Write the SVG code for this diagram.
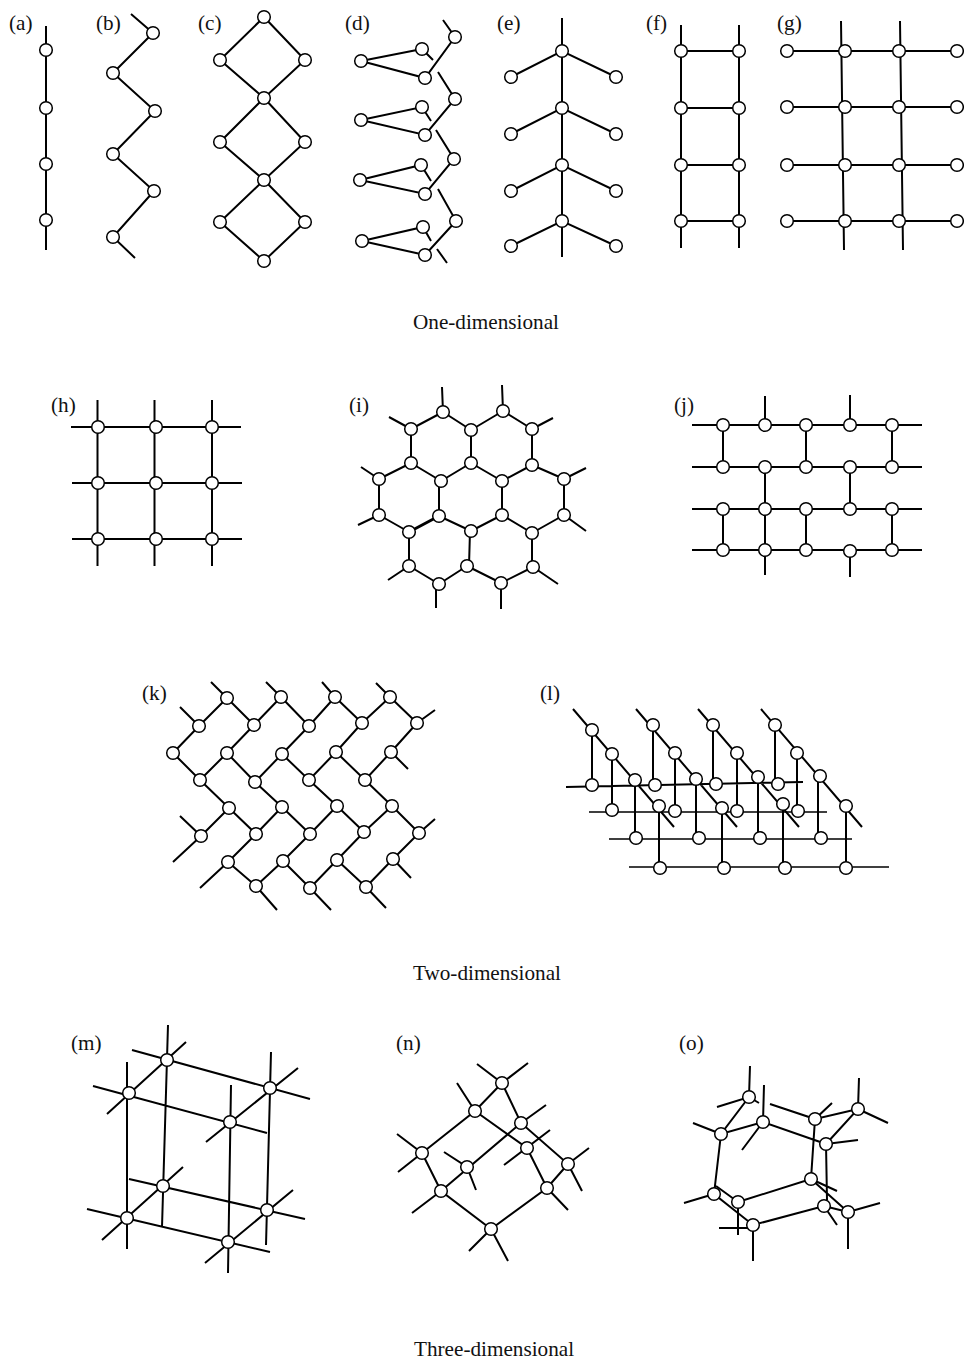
<svg xmlns="http://www.w3.org/2000/svg" width="964" height="1359" viewBox="0 0 964 1359">
<style>
text{font-family:"Liberation Serif","Times New Roman",serif;font-size:21.2px;fill:#111}
.e{stroke:#000;stroke-width:2;fill:none;stroke-linecap:butt}
.t{stroke-width:1.5}
.n circle{fill:#fff;stroke:#000;stroke-width:1.5;r:6.3px}
</style>
<rect width="964" height="1359" fill="#fff"/>
<g id="connectors" class="e">
<path id="c-a" d="M46 26V250"/>
<path id="c-b" d="M131 14L153 33L113 73L155 111L113 154L154 191L113 237L135 258"/>
<path id="c-c" d="M264 17L220 60L264 98L220 142L264 180L220 222L264 261L305 222L264 180L305 142L264 98L305 60Z"/>
<path id="c-d" d="M422 49L361 61L425 78L455 37L443 20M422 49L433 60M438 72L455 99L425 135L361 120L422 107L431 121M436 130L454 159L425 194L360 180L421 165L431 181M438 189L456 221L425 255L362 241L423 227L431 241M437 249L447 263"/>
<path id="c-e" d="M562 18V257M511 77L562 51L616 77M511 134L562 108L616 134M511 191L562 165L616 191M511 246L562 221L616 246"/>
<path id="c-f" d="M681 25V248M739 25V248M681 51H739M681 108H739M681 165H739M681 221H739"/>
<path id="c-g" d="M841 21L844 250M900 21L903 250M787 51H957M787 107H957M787 165H957M787 221H957"/>
<path id="c-h" d="M71 427H241M72 483H242M72 539H242M97.5 400V566M154.5 400V566M212 400V566"/>
<path id="c-i" d="M443 412L411 429M443 412L471 430M503 411L471 430M503 411L532 429M411 429V463M471 430V463M532 429V465M411 463L379 479M411 463L441 481M471 463L441 481M471 463L502 481M532 465L502 481M532 465L564 479M379 479V515M439 481V516M502 481V515M564 479V515M379 515L409 532M439 516L471 531M502 515L471 531M502 515L532 533M564 515L532 533M409 532V566M470 531L469 566M532 533V567M409 566L439 584M467 566L439 584M467 566L501 583M533 567L501 583M442 387L443 412M502 385L503 411M389 417L411 429M553 418L532 429M361 467L379 479M586 468L564 479M358 525L379 515M586 531L564 515M388 580L409 566M558 584L533 567M436 608V584M501 609V583"/>
<path d="M439 516L409 532" stroke-width="3"/>
<path id="c-j" d="M692 425H922M692 467H922M692 509H922M692 550H922M723 425V467M806 425V467M892 425V467M765 467V550M850 467V509M723 509V550M806 509V550M892 509V550M765 396V425M850 395V425M765 550V575M850 550V577"/>
<path id="c-k" d="M227 698L199 726M227 698L254 725M281 697L254 725M281 697L309 726M335 697L309 726M335 697L362 723M390 697L362 723M390 697L417 723M199 726L173 753M254 725L227 753M309 726L282 754M362 723L336 752M417 723L391 752M173 753L200 780M227 753L200 780M227 753L255 782M282 754L255 782M282 754L309 780M336 752L309 780M336 752L365 780M391 752L365 780M200 780L229 808M255 782L282 807M309 780L337 806M365 780L392 806M229 808L201 836M229 808L256 834M282 807L256 834M282 807L310 834M337 806L310 834M337 806L364 832M392 806L364 832M392 806L419 833M256 834L228 862M310 834L283 861M364 832L337 860M419 833L393 859M228 862L256 886M283 861L256 886M283 861L310 888M337 860L310 888M337 860L366 887M393 859L366 887M211 682L227 698M266 682L281 697M322 682L335 697M376 683L390 697M180 707L199 726M435 710L417 723M408 769L391 752M180 816L201 836M173 862L201 836M435 819L419 833M200 888L228 862M411 878L393 859M277 910L256 886M331 910L310 888M386 908L366 887"/>
<path id="c-l" d="M573 709L674 827M636 709L737 827M698 709L799 827M761 709L862 827M566 787L803 782M592 730V785M612 754V810M635 780V838M659 806V868M653 725V785M675 753V811M696 779V838M722 808V868M713 725V784M737 753V811M758 777V838M783 804V868M775 725V784M797 753V811M818 776V838M846 806V868"/>
<path class="t" d="M589 812H827M609 839H852M629 867H889"/>
<path id="c-m" d="M168 1025L162 1227M127 1062V1249M271 1052L266 1245M231 1085L228 1273M186 1042L107 1114M298 1068L206 1142M183 1167L102 1240M293 1190L205 1263M132 1050L310 1099M93 1086L267 1133M129 1179L305 1219M87 1209L270 1252"/>
<path id="c-n" d="M477 1064L502 1083L528 1063M502 1083L475 1111L422 1153L441 1191L491 1229L547 1188L568 1164L521 1123L502 1083M475 1111L527 1148L547 1188M521 1123L441 1191M457 1083L475 1111M546 1105L521 1123M550 1130L504 1165M589 1148L568 1164L582 1191M397 1134L422 1153L398 1172M444 1152L467 1167L476 1190M412 1213L441 1191M568 1210L547 1188M469 1251L491 1229L508 1261"/>
<path id="c-o" d="M750 1066L749 1097L721 1134L763 1122L826 1144L858 1109L815 1119L811 1179L738 1202M717 1107L749 1097L759 1103M764 1085L763 1122L742 1150M693 1123L721 1134L714 1194L753 1225L824 1206L848 1212L811 1179M716 1186L738 1202M770 1104L815 1119L832 1103M859 1078L858 1109L888 1123M826 1144L858 1140M826 1144L827 1200M811 1179L837 1191M824 1206L837 1225M880 1203L848 1212V1249M684 1203L714 1194M738 1202V1235M719 1228H753V1261"/>
</g>
<g id="a" class="n"><text x="9" y="30">(a)</text><circle cx="46" cy="50"/><circle cx="46" cy="108"/><circle cx="46" cy="164"/><circle cx="46" cy="220"/></g>
<g id="b" class="n"><text x="96" y="30">(b)</text><circle cx="153" cy="33"/><circle cx="113" cy="73"/><circle cx="155" cy="111"/><circle cx="113" cy="154"/><circle cx="154" cy="191"/><circle cx="113" cy="237"/></g>
<g id="c" class="n"><text x="198" y="30">(c)</text><circle cx="264" cy="17"/><circle cx="220" cy="60"/><circle cx="305" cy="60"/><circle cx="264" cy="98"/><circle cx="220" cy="142"/><circle cx="305" cy="142"/><circle cx="264" cy="180"/><circle cx="220" cy="222"/><circle cx="305" cy="222"/><circle cx="264" cy="261"/></g>
<g id="d" class="n"><text x="345" y="30">(d)</text><circle cx="361" cy="61"/><circle cx="422" cy="49"/><circle cx="425" cy="78"/><circle cx="455" cy="37"/><circle cx="361" cy="120"/><circle cx="422" cy="107"/><circle cx="425" cy="135"/><circle cx="455" cy="99"/><circle cx="360" cy="180"/><circle cx="421" cy="165"/><circle cx="425" cy="194"/><circle cx="454" cy="159"/><circle cx="362" cy="241"/><circle cx="423" cy="227"/><circle cx="425" cy="255"/><circle cx="456" cy="221"/></g>
<g id="e" class="n"><text x="497" y="30">(e)</text><circle cx="562" cy="51"/><circle cx="562" cy="108"/><circle cx="562" cy="165"/><circle cx="562" cy="221"/><circle cx="511" cy="77"/><circle cx="511" cy="134"/><circle cx="511" cy="191"/><circle cx="511" cy="246"/><circle cx="616" cy="77"/><circle cx="616" cy="134"/><circle cx="616" cy="191"/><circle cx="616" cy="246"/></g>
<g id="f" class="n"><text x="646" y="30">(f)</text><circle cx="681" cy="51"/><circle cx="739" cy="51"/><circle cx="681" cy="108"/><circle cx="739" cy="108"/><circle cx="681" cy="165"/><circle cx="739" cy="165"/><circle cx="681" cy="221"/><circle cx="739" cy="221"/></g>
<g id="g" class="n"><text x="777" y="30">(g)</text><circle cx="787" cy="51"/><circle cx="845" cy="51"/><circle cx="899" cy="51"/><circle cx="957" cy="51"/><circle cx="787" cy="107"/><circle cx="845" cy="107"/><circle cx="899" cy="107"/><circle cx="957" cy="107"/><circle cx="787" cy="165"/><circle cx="845" cy="165"/><circle cx="899" cy="165"/><circle cx="957" cy="165"/><circle cx="787" cy="221"/><circle cx="845" cy="221"/><circle cx="899" cy="221"/><circle cx="957" cy="221"/></g>
<text x="413" y="329">One-dimensional</text>
<g id="h" class="n"><text x="51" y="412">(h)</text><circle cx="98" cy="427"/><circle cx="156" cy="427"/><circle cx="212" cy="427"/><circle cx="98" cy="483"/><circle cx="156" cy="483"/><circle cx="212" cy="483"/><circle cx="98" cy="539"/><circle cx="156" cy="539"/><circle cx="212" cy="539"/></g>
<g id="i" class="n"><text x="349" y="412">(i)</text><circle cx="443" cy="412"/><circle cx="503" cy="411"/><circle cx="411" cy="429"/><circle cx="471" cy="430"/><circle cx="532" cy="429"/><circle cx="411" cy="463"/><circle cx="471" cy="463"/><circle cx="532" cy="465"/><circle cx="379" cy="479"/><circle cx="441" cy="481"/><circle cx="502" cy="481"/><circle cx="564" cy="479"/><circle cx="379" cy="515"/><circle cx="439" cy="516"/><circle cx="502" cy="515"/><circle cx="564" cy="515"/><circle cx="409" cy="532"/><circle cx="471" cy="531"/><circle cx="532" cy="533"/><circle cx="409" cy="566"/><circle cx="467" cy="566"/><circle cx="533" cy="567"/><circle cx="439" cy="584"/><circle cx="501" cy="583"/></g>
<g id="j" class="n"><text x="674" y="412">(j)</text><circle cx="723" cy="425"/><circle cx="765" cy="425"/><circle cx="806" cy="425"/><circle cx="850" cy="425"/><circle cx="892" cy="425"/><circle cx="723" cy="467"/><circle cx="765" cy="467"/><circle cx="806" cy="467"/><circle cx="850" cy="467"/><circle cx="892" cy="467"/><circle cx="723" cy="509"/><circle cx="765" cy="509"/><circle cx="806" cy="509"/><circle cx="850" cy="509"/><circle cx="892" cy="509"/><circle cx="723" cy="550"/><circle cx="765" cy="550"/><circle cx="806" cy="550"/><circle cx="850" cy="551"/><circle cx="892" cy="550"/></g>
<g id="k" class="n"><text x="142" y="700">(k)</text><circle cx="227" cy="698"/><circle cx="281" cy="697"/><circle cx="335" cy="697"/><circle cx="390" cy="697"/><circle cx="199" cy="726"/><circle cx="254" cy="725"/><circle cx="309" cy="726"/><circle cx="362" cy="723"/><circle cx="417" cy="723"/><circle cx="173" cy="753"/><circle cx="227" cy="753"/><circle cx="282" cy="754"/><circle cx="336" cy="752"/><circle cx="391" cy="752"/><circle cx="200" cy="780"/><circle cx="255" cy="782"/><circle cx="309" cy="780"/><circle cx="365" cy="780"/><circle cx="229" cy="808"/><circle cx="282" cy="807"/><circle cx="337" cy="806"/><circle cx="392" cy="806"/><circle cx="201" cy="836"/><circle cx="256" cy="834"/><circle cx="310" cy="834"/><circle cx="364" cy="832"/><circle cx="419" cy="833"/><circle cx="228" cy="862"/><circle cx="283" cy="861"/><circle cx="337" cy="860"/><circle cx="393" cy="859"/><circle cx="256" cy="886"/><circle cx="310" cy="888"/><circle cx="366" cy="887"/></g>
<g id="l" class="n"><text x="540" y="700">(l)</text><circle cx="592" cy="730"/><circle cx="612" cy="754"/><circle cx="635" cy="780"/><circle cx="659" cy="806"/><circle cx="653" cy="725"/><circle cx="675" cy="753"/><circle cx="696" cy="779"/><circle cx="722" cy="808"/><circle cx="713" cy="725"/><circle cx="737" cy="753"/><circle cx="758" cy="777"/><circle cx="783" cy="804"/><circle cx="775" cy="725"/><circle cx="797" cy="753"/><circle cx="820" cy="776"/><circle cx="846" cy="806"/><circle cx="592" cy="785"/><circle cx="655" cy="785"/><circle cx="716" cy="784"/><circle cx="778" cy="784"/><circle cx="612" cy="810"/><circle cx="675" cy="811"/><circle cx="737" cy="811"/><circle cx="798" cy="811"/><circle cx="636" cy="838"/><circle cx="699" cy="838"/><circle cx="760" cy="838"/><circle cx="821" cy="838"/><circle cx="660" cy="868"/><circle cx="724" cy="868"/><circle cx="785" cy="868"/><circle cx="846" cy="868"/></g>
<text x="413" y="980">Two-dimensional</text>
<g id="m" class="n"><text x="71" y="1050">(m)</text><circle cx="167" cy="1060"/><circle cx="129" cy="1093"/><circle cx="270" cy="1088"/><circle cx="230" cy="1122"/><circle cx="163" cy="1186"/><circle cx="127" cy="1218"/><circle cx="267" cy="1210"/><circle cx="228" cy="1242"/></g>
<g id="n" class="n"><text x="396" y="1050">(n)</text><circle cx="502" cy="1083"/><circle cx="475" cy="1111"/><circle cx="521" cy="1123"/><circle cx="527" cy="1148"/><circle cx="568" cy="1164"/><circle cx="422" cy="1153"/><circle cx="467" cy="1167"/><circle cx="441" cy="1191"/><circle cx="547" cy="1188"/><circle cx="491" cy="1229"/></g>
<g id="o" class="n"><text x="679" y="1050">(o)</text><circle cx="749" cy="1097"/><circle cx="763" cy="1122"/><circle cx="721" cy="1134"/><circle cx="815" cy="1119"/><circle cx="858" cy="1109"/><circle cx="826" cy="1144"/><circle cx="811" cy="1179"/><circle cx="824" cy="1206"/><circle cx="848" cy="1212"/><circle cx="714" cy="1194"/><circle cx="738" cy="1202"/><circle cx="753" cy="1225"/></g>
<text x="414" y="1356">Three-dimensional</text>
</svg>
